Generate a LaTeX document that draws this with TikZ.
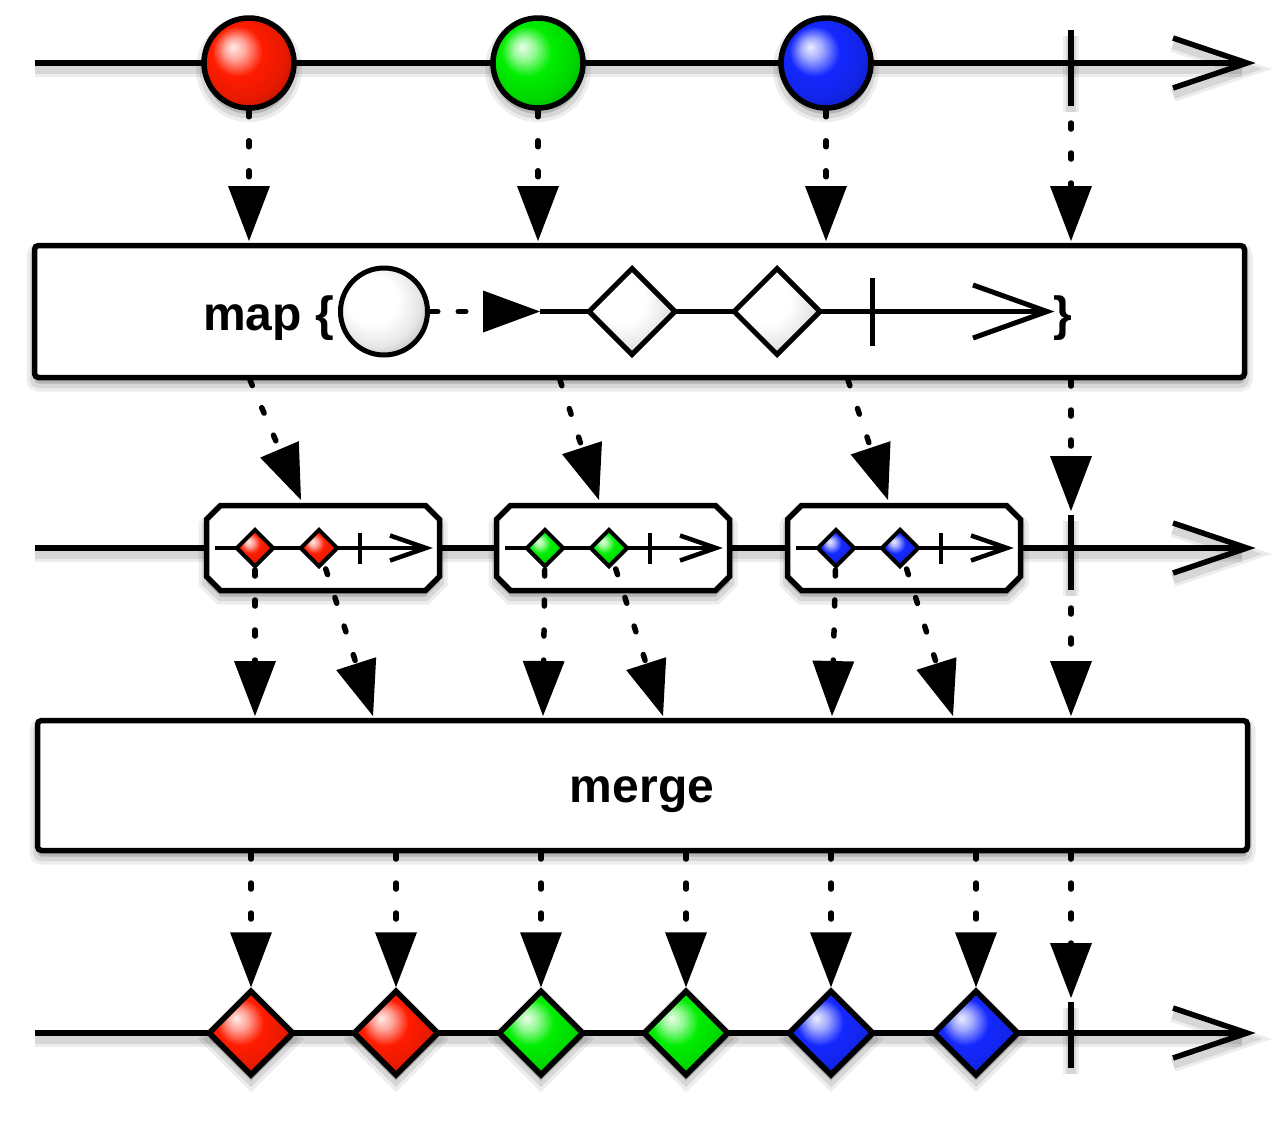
\documentclass[tikz,border=0pt]{standalone}
\usepackage{fontspec}
\setmainfont{Liberation Sans}
\usetikzlibrary{arrows.meta,shapes.geometric}
\definecolor{mred}{RGB}{255,28,0}
\definecolor{mgreen}{RGB}{0,238,0}
\definecolor{mblue}{RGB}{20,40,255}
\colorlet{basecol}{mred}
\pgfdeclareradialshading[basecol]{myball}{\pgfqpoint{-9bp}{9bp}}{%
 color(0bp)=(basecol!8!white); color(6bp)=(basecol!40!white); color(14bp)=(basecol);
 color(25bp)=(basecol!90!black); color(34bp)=(basecol!68!black); color(50bp)=(basecol!50!black)}
\tikzset{
 mball/.code={\colorlet{basecol}{#1}\tikzset{shade,shading=myball}},
 shd/.style={preaction={draw=black,fill=black,opacity=0.07,line width=16pt,transform canvas={yshift=-6pt}},
             preaction={draw=black,fill=black,opacity=0.09,line width=9pt,transform canvas={yshift=-6pt}}},
 shdl/.style={preaction={draw=black,opacity=0.07,line width=16pt,transform canvas={yshift=-6pt}},
             preaction={draw=black,opacity=0.09,line width=10pt,transform canvas={yshift=-6pt}}},
}
\begin{document}
\begin{tikzpicture}[x=1pt,y=-1pt,line join=miter,
  tl/.style={line width=5.5pt},
  il/.style={line width=4.5pt},
  dotarr/.style={line width=5.5pt,line cap=round,dash pattern=on 6pt off 24pt,
     -{Triangle[length=55pt,width=42pt,line width=0pt]}},
  ballnode/.style={circle,draw,line width=5.5pt,minimum size=90pt,inner sep=0pt,shd},
  bdia/.style={diamond,aspect=1,draw,line width=5.5pt,minimum size=86pt,inner sep=0pt,shd},
  mdia/.style={diamond,aspect=1,draw,line width=5pt,minimum size=88pt,inner sep=0pt,mball=white},
  sdia/.style={diamond,aspect=1,draw,line width=4pt,minimum size=38pt,inner sep=0pt},
  opbox/.style={rectangle,draw,fill=white,line width=5.5pt,rounded corners=4pt,inner sep=0pt,shd},
  cbox/.style={draw,fill=white,line width=5.5pt,shd},
  lbl/.style={font=\bfseries\fontsize{48}{50}\selectfont,inner sep=0pt}
]
\useasboundingbox[fill=white] (0,0) rectangle (1280,1120);

% ---------- coordinates ----------
\coordinate (t1) at (249,241); \coordinate (t2) at (538,241);
\coordinate (t3) at (826,241); \coordinate (t4) at (1071,241);
\coordinate (u1) at (250,380); \coordinate (u2) at (560,380);
\coordinate (u3) at (848,380); \coordinate (u4) at (1071,380);
\coordinate (v1) at (301,500); \coordinate (v2) at (599,500);
\coordinate (v3) at (888,500); \coordinate (v4) at (1071,511);
\coordinate (w1) at (255,716); \coordinate (w2) at (373,716);
\coordinate (w3) at (543,716); \coordinate (w4) at (663,716);
\coordinate (w5) at (832,716); \coordinate (w6) at (953,716);
\coordinate (w7) at (1071,716);
\coordinate (z1) at (251,853); \coordinate (z2) at (396,853);
\coordinate (z3) at (541,853); \coordinate (z4) at (686,853);
\coordinate (z5) at (831,853); \coordinate (z6) at (976,853);
\coordinate (z7) at (1071,853);
\coordinate (k1) at (1071,63); \coordinate (k2) at (1071,548);
\coordinate (k3) at (1071,1033); \coordinate (k3t) at (1071,998);
\coordinate (ca1) at (255,548); \coordinate (cb1) at (319,548);
\coordinate (ca2) at (545,548); \coordinate (cb2) at (609,548);
\coordinate (ca3) at (836,548); \coordinate (cb3) at (900,548);

% ---------- top timeline ----------
\draw[tl,shdl] (35,63) -- (1242,63);
\draw[tl,shdl] (1173,38) -- (1247,63) -- (1173,88);
\draw[tl,shdl] (1071,30) -- (1071,106);
\node[ballnode,mball=mred] (b1) at (249,63) {};
\node[ballnode,mball=mgreen] (b2) at (538,63) {};
\node[ballnode,mball=mblue] (b3) at (826,63) {};

% ---------- map box ----------
\node[opbox,minimum width=1210pt,minimum height=132pt] (map) at (639.5,311.5) {};
\node[lbl,anchor=base west] (maptxt) at (203,330) {map \{};
\node[circle,draw,line width=5pt,minimum size=87pt,inner sep=0pt,mball=white] (mc) at (384,311.5) {};
\coordinate (mi) at (540,311.5);
\draw[line width=5pt,line cap=round,dash pattern=on 8pt off 20pt,
  -{Triangle[length=57pt,width=42pt,line width=0pt]}] (mc.east) -- (mi);
\draw[line width=5pt] (mi) -- (1040,311.5);
\draw[line width=5pt] (973,285) -- (1047,311.5) -- (973,338);
\draw[line width=5pt] (872,278) -- (872,346);
\node[mdia] (md1) at (632,311.5) {};
\node[mdia] (md2) at (777,311.5) {};
\node[lbl,anchor=base west] (maptxtb) at (1053,330) {\}};

% arrows into map
\draw[dotarr] (b1.south) -- (t1);
\draw[dotarr] (b2.south) -- (t2);
\draw[dotarr] (b3.south) -- (t3);
\draw[dotarr] (k1) -- (t4);

% ---------- middle timeline ----------
\draw[tl,shdl] (35,548) -- (1242,548);
\draw[tl,shdl] (1173,523) -- (1247,548) -- (1173,573);
\draw[tl,shdl] (1071,515) -- (1071,590);
\foreach \bx in {204,494,785}{
 \begin{scope}[shift={(\bx,548)}]
  \draw[cbox] (16.5,-42.5) -- (221.5,-42.5) -- (235.5,-28.5) -- (235.5,28.5)
     -- (221.5,42.5) -- (16.5,42.5) -- (2.5,28.5) -- (2.5,-28.5) -- cycle;
  \draw[il] (11,0) -- (218,0);
  \draw[il] (186,-12.5) -- (222,0) -- (186,12.5);
  \draw[il] (156,-15) -- (156,16);
 \end{scope}
}
% arrows from map
\draw[dotarr] (u1) -- (v1);
\draw[dotarr] (u2) -- (v2);
\draw[dotarr] (u3) -- (v3);
\draw[dotarr] (u4) -- (v4);
% arrows into merge
\draw[dotarr,dash phase=8pt] (ca1) -- (w1);
\draw[dotarr,dash phase=8pt] (cb1) -- (w2);
\draw[dotarr,dash phase=8pt] (ca2) -- (w3);
\draw[dotarr,dash phase=8pt] (cb2) -- (w4);
\draw[dotarr,dash phase=8pt] (ca3) -- (w5);
\draw[dotarr,dash phase=8pt] (cb3) -- (w6);
\draw[dotarr] (k2) -- (w7);
\node[sdia,mball=mred] (sa1) at (ca1) {};
\node[sdia,mball=mred] (sb1) at (cb1) {};
\node[sdia,mball=mgreen] (sa2) at (ca2) {};
\node[sdia,mball=mgreen] (sb2) at (cb2) {};
\node[sdia,mball=mblue] (sa3) at (ca3) {};
\node[sdia,mball=mblue] (sb3) at (cb3) {};

% ---------- merge box ----------
\node[opbox,minimum width=1210pt,minimum height=130pt] (merge) at (642.5,785.5) {};
\node[lbl,anchor=base] (mergetxt) at (642,802) {merge};

% ---------- bottom timeline ----------
\draw[tl,shdl] (35,1033) -- (1242,1033);
\draw[tl,shdl] (1173,1008) -- (1247,1033) -- (1173,1058);
\draw[tl,shdl] (1071,1002) -- (1071,1068);
\node[bdia,mball=mred] (d1) at (251,1033) {};
\node[bdia,mball=mred] (d2) at (396,1033) {};
\node[bdia,mball=mgreen] (d3) at (541,1033) {};
\node[bdia,mball=mgreen] (d4) at (686,1033) {};
\node[bdia,mball=mblue] (d5) at (831,1033) {};
\node[bdia,mball=mblue] (d6) at (976,1033) {};
\draw[dotarr] (z1) -- (d1.north);
\draw[dotarr] (z2) -- (d2.north);
\draw[dotarr] (z3) -- (d3.north);
\draw[dotarr] (z4) -- (d4.north);
\draw[dotarr] (z5) -- (d5.north);
\draw[dotarr] (z6) -- (d6.north);
\draw[dotarr] (z7) -- (k3t);
\end{tikzpicture}
\end{document}
